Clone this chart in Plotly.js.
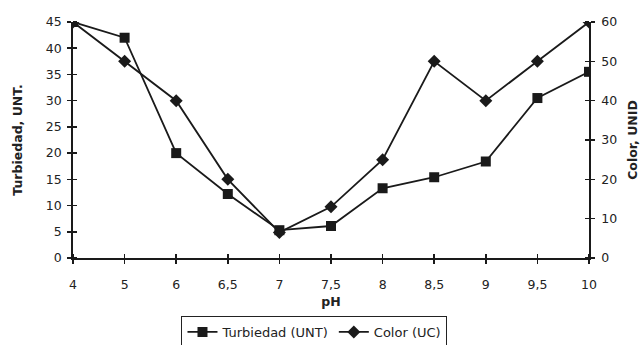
<!DOCTYPE html>
<html>
<head>
<meta charset="utf-8">
<script src="https://cdn.plot.ly/plotly-3.0.1.min.js"></script>
<style>html,body{margin:0;padding:0;background:#fff;}#chart{width:640px;height:345px;}</style>
</head>
<body>
<div id="chart"></div>
<script>
const phLabels = ["4", "5", "6", "6,5", "7", "7,5", "8", "8,5", "9", "9,5", "10"];
const turbiedad = [45, 42, 20, 12.2, 5.3, 6.1, 13.3, 15.4, 18.4, 30.5, 35.5];
const colorUC = [60, 50, 40, 20, 6.5, 13, 25, 50, 40, 50, 60];
const leftTicks = [0, 5, 10, 15, 20, 25, 30, 35, 40, 45];
const rightTicks = [0, 10, 20, 30, 40, 50, 60];

// categorical positions (equally spaced pH steps)
const xPos = phLabels.map((_, i) => i);

const fontFam = '"DejaVu Sans", Verdana, sans-serif';
const ink = '#1a1a1a';

const traces = [
  {
    x: xPos, y: turbiedad, name: 'Turbiedad (UNT)', type: 'scatter', mode: 'lines+markers',
    xaxis: 'x', yaxis: 'y',
    line: {color: ink, width: 1.8},
    marker: {symbol: 'square', size: 10, color: ink}
  },
  {
    x: xPos, y: colorUC, name: 'Color (UC)', type: 'scatter', mode: 'lines+markers',
    xaxis: 'x', yaxis: 'y2',
    line: {color: ink, width: 1.8},
    marker: {symbol: 'diamond', size: 10, color: ink}
  }
];

const tickFont = {family: fontFam, size: 12.5, color: '#222'};
const titleFont = {family: fontFam, size: 12.5, color: '#222', weight: 'bold'};

const layout = {
  width: 640, height: 345,
  margin: {l: 73, r: 51, t: 22, b: 87, autoexpand: false},
  paper_bgcolor: '#fff', plot_bgcolor: '#fff',
  showlegend: true,
  legend: {
    orientation: 'h', x: 0.468, xanchor: 'center', xref: 'paper',
    yref: 'container', y: 0.084, yanchor: 'top',
    bordercolor: '#222', borderwidth: 1, bgcolor: '#fff',
    font: {family: fontFam, size: 13, color: '#222'},
    itemwidth: 30, tracegroupgap: 0
  },
  xaxis: {
    type: 'linear', range: [0, phLabels.length - 1],
    tickvals: xPos, ticktext: phLabels,
    showgrid: false, zeroline: false,
    showline: true, linecolor: ink, linewidth: 1.8,
    ticks: 'outside', ticklen: 4, tickwidth: 1.5, tickcolor: ink,
    ticklabelstandoff: 10,
    minor: {tickvals: xPos, ticks: 'inside', ticklen: 4, tickwidth: 1.5, tickcolor: ink, showgrid: false},
    tickfont: tickFont,
    title: {text: 'pH', font: titleFont, standoff: 6}
  },
  yaxis: {
    range: [0, 45], tickvals: leftTicks, ticktext: leftTicks.map(String),
    showgrid: false, zeroline: false,
    showline: true, linecolor: ink, linewidth: 1.8,
    ticks: 'outside', ticklen: 4, tickwidth: 1.5, tickcolor: ink,
    ticklabelstandoff: 3,
    minor: {tickvals: leftTicks, ticks: 'inside', ticklen: 4, tickwidth: 1.5, tickcolor: ink, showgrid: false},
    tickfont: tickFont,
    title: {text: 'Turbiedad, UNT.', font: titleFont, standoff: 20}
  },
  yaxis2: {
    range: [0, 60], tickvals: rightTicks, ticktext: rightTicks.map(String),
    overlaying: 'y', side: 'right', anchor: 'x',
    showgrid: false, zeroline: false,
    showline: true, linecolor: ink, linewidth: 1.8,
    ticks: 'outside', ticklen: 4, tickwidth: 1.5, tickcolor: ink,
    ticklabelstandoff: 4,
    minor: {tickvals: rightTicks, ticks: 'inside', ticklen: 4, tickwidth: 1.5, tickcolor: ink, showgrid: false},
    tickfont: tickFont,
    title: {text: 'Color, UNID', font: titleFont, standoff: 18}
  }
};

Plotly.newPlot('chart', traces, layout, {displayModeBar: false, staticPlot: true});
</script>
</body>
</html>
